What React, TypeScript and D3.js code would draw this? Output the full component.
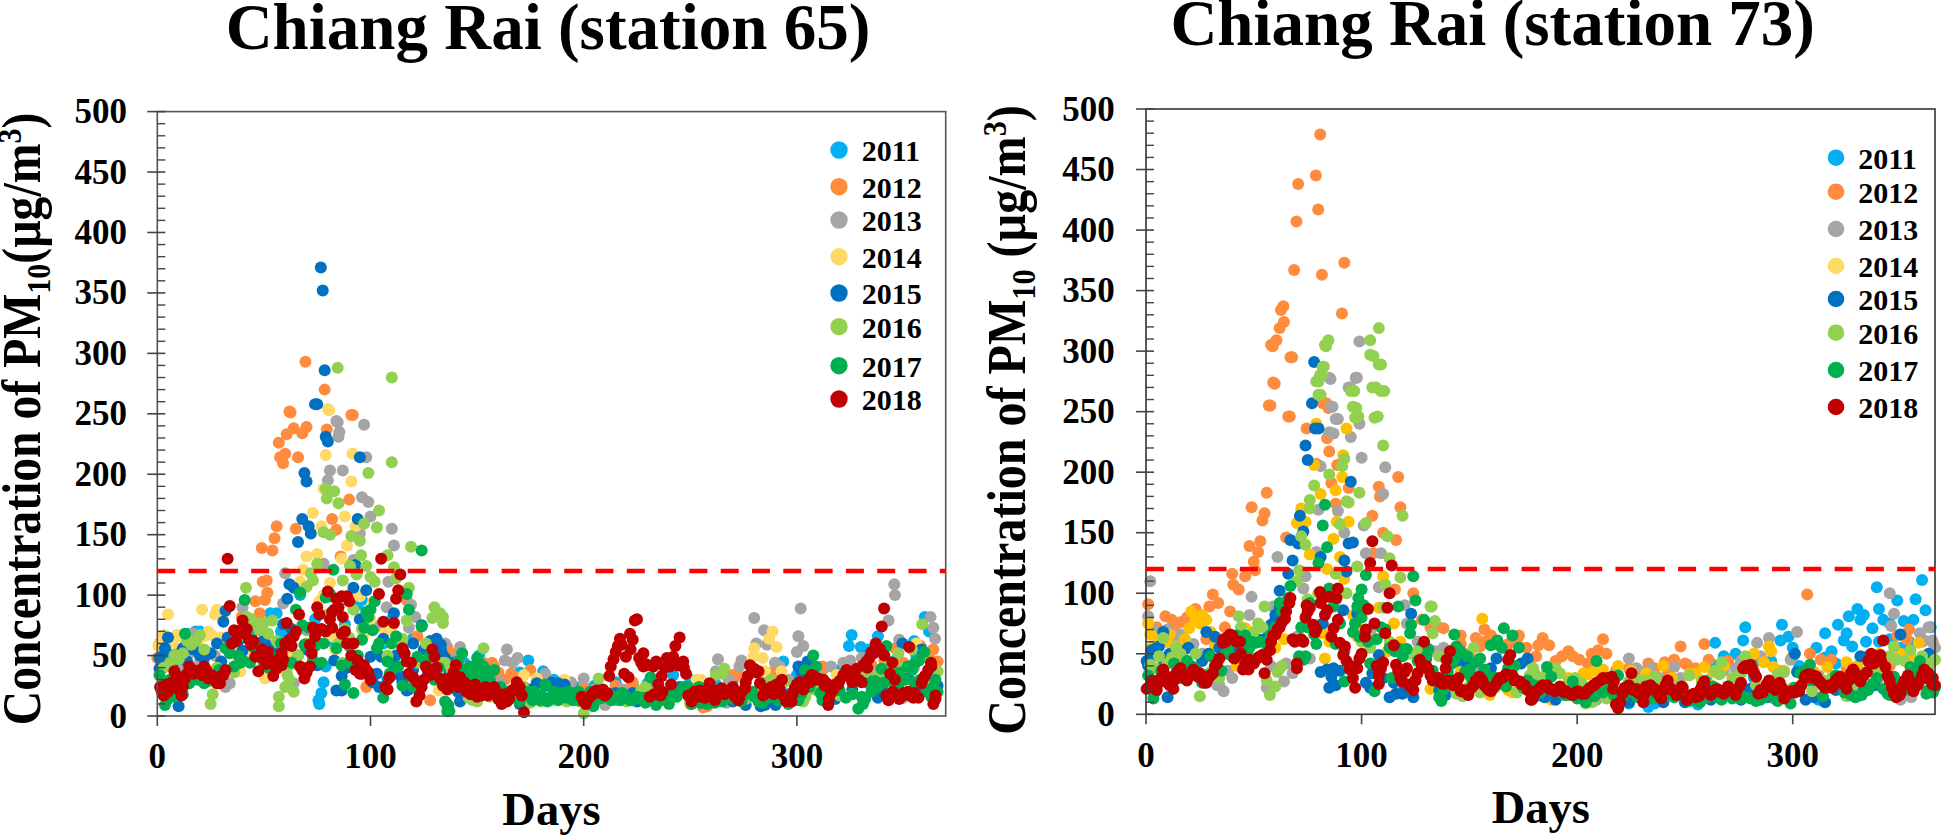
import React from "react";
import * as d3 from "d3";

type P = [number, number];
const years = [2011, 2012, 2013, 2014, 2015, 2016, 2017, 2018];
const xTickValues = [0, 100, 200, 300];

// ---------- Station 65 ----------
const s65_2011: P[] = [[79,41],[78,28],[77,19],[75.6,13],[76,10],[53,85],[67,100],[96,96],[20,70],[83,60],[94,92],[151,50],[174,46],[181,37],[186,30],[242,34],[223,26],[325.7,67],[324.4,58],[330,57],[333.5,55],[338,66],[360,82],[293.6,45],[61,66],[36,60],[12,66],[5,60],[88,76],[106,60],[110,80],[196,24],[262,26],[300,34],[355,62],
[14,68],[18,70],[2,50],[40,66],[45,70],[56,85],[58,70],[74,80],[86,64],[90,58],[120,64],[135,50],[144,44],[160,30],[170,36],[190,28],[205,25],[215,28],[230,27],[250,30],[270,30],[285,25],[310,30],[320,38],[345,45],[362,70],[356,50]];
const s65_2012: P[] = [[69.5,293],[78.5,270],[62.5,251],[91.7,249],[62,252],[91,249],[64,238],[60.7,233],[70,239],[68,234],[79.5,237],[57,226],[60,217],[57.6,214],[59,209],[66,214],[90,179],[82,163],[84,154],[65,155],[56,157],[55,147],[49,139],[54,137],[86,132],[51.3,112],[49.5,111],[51.6,102],[50.5,96],[46,95],[48,85],[39.6,82],[0,48],[128,13],[98,24],[117,96],[157,44],[158,41],[166,35],[163,30],[175,38],[136,57],[223,28],[182,30],[366,45],[364,55],[272.5,34],[312,41],[346,56],[258,8],[288,36],[110,75],[122,66],[134,48],[145,40],[7,53],[42,72],
[3,50],[134,55],[138,52],[141,46],[150,40],[153,44],[160,36],[168,32],[172,24],[178,30],[188,22],[200,24],[215,25],[222,24],[250,10],[256,7],[270,34],[276,32],[284,36],[292,33],[306,36],[312,38],[326,40],[335,42],[341,46],[350,44],[358,58],[362,48]];
const s65_2013: P[] = [[84.6,243],[84,244],[97,241],[85.4,235],[85,231],[81,203],[87,203],[80,195],[98,214],[96,181],[99,177],[100,165],[110,155],[111,141],[95,151],[78,126],[92,129],[60,118],[108.4,111],[119,92],[107.6,90],[59,93],[40,90],[34,27],[32,24],[64,27],[65,44],[103,74],[118,73],[70,71],[121,82],[17,68],[1,60],[142,57],[164,55],[169,48],[163,46],[166.7,44],[182,35],[200,31],[194,28],[161,28],[210,9],[345.7,109],[346,100],[343,79],[362.7,82],[364,73],[364.8,64],[348,63],[280,81],[284.6,71],[301.8,89],[300.7,66],[303,58],[300,53],[263,47],[274,46],[273,41],[281,60],[286,59],[289.7,44],[316,41],[321.8,44],[330.4,48],[350,15],[267,11],[128,45],
[135,60],[140,48],[145,35],[150,30],[156,30],[170,25],[176,22],[190,25],[205,22],[218,22],[232,20],[250,23],[258,22],[262,37],[268,30],[285,33],[292,41],[296,30],[305,38],[310,34],[325,46],[330,37],[335,36],[340,38],[355,40],[20,45],[27,50],[30,34],[6,48],[12,40],[15,52]];
const s65_2014: P[] = [[80.6,253],[80,254],[91.5,217],[79,216],[91,194],[78,188],[73,168],[88,165],[77,157],[93,157],[89,141],[70,132],[75,134],[86.5,130],[68.5,121],[67,111],[5,84],[21,88],[28,88],[27,84],[31,84],[0.5,58],[3,67],[9,67],[25.5,67],[29,63],[83.4,55],[96.6,66],[50.5,31],[39,37],[101.4,95],[109,71],[107,70],[132,21],[95,99],[82,66],[172,34],[191,30],[253,30],[178,31],[185,28],[288.6,70],[290.5,57],[287,64],[280,56],[284,48],[279.6,49],[292.8,37],[318.6,34],[356,60],[255,30],[344,41],[285,37],[120,30],
[1,60],[4,62],[7,60],[10,66],[13,63],[16,58],[19,62],[22,66],[24,70],[30,65],[33,62],[36,55],[38,45],[44,48],[52,55],[58,48],[63,50],[76,95],[78,100],[81,110],[84,90],[90,100],[100,80],[105,62],[112,50],[126,40],[138,28],[146,30]];
const s65_2015: P[] = [[76.7,371],[77.6,352],[78.5,286],[75,258],[74,258],[79,231],[80,227],[95,214],[69,201],[70,194],[68,163],[71,157],[72,151],[66,144],[94,163],[93,125],[92,106],[98,104],[62,109],[64,106],[61,97],[32,87],[31,78],[5,65],[3.6,56],[3,50],[1,39],[10,8],[84,21],[86.5,21],[86.5,33],[83,46],[81,99],[111,85],[131,64],[133,55],[124,75],[117,21],[114,33],[103,35],[105,49],[106,64],[100,49],[33,65],[47,60],[59,76],[50,63],[191,26],[178,27],[185,28],[133,59],[134,50],[223,19],[142,12],[172,10],[349.5,60],[300.7,41],[338,15],[285,9],[302,37],[358.5,55],[12,56],[20,50],[95,80],[120,60],[127,36],
[1,48],[2,44],[6,50],[7,42],[14,45],[17,55],[22,48],[25,52],[28,60],[30,45],[38,62],[40,54],[44,62],[52,58],[55,52],[60,58],[63,72],[66,50],[70,55],[75,42],[89,40],[92,50],[96,40],[100,33],[101,28],[104,24],[108,30],[110,44],[112,50],[115,28],[118,22],[120,38],[125,55],[128,62],[135,48],[137,36],[139,44],[141,20],[145,28],[150,22],[155,24],[165,20],[170,10],[175,22],[182,25],[188,27],[195,18],[205,16],[215,19],[225,12],[235,18],[245,24],[255,11],[262,16],[270,12],[276,9],[283,8],[290,9],[296,18],[305,45],[312,18],[318,14],[326,22],[333,30],[340,22],[345,17],[352,34],[356,20],[362,30],[366,25]];
const s65_2016: P[] = [[84.6,288],[110,280],[110,210],[99,201],[79,188],[83,186],[79.5,180],[85,176],[104,170],[97,159],[103,156],[78,152],[81,150],[91,149],[95,145],[119,140],[95.6,133],[108,133],[98,124],[111,123],[90.4,124],[93.5,117],[75,126],[87,112],[72,118],[100,115],[102,111],[70,107],[73,112],[41.6,106],[112,114],[118,106],[117,79],[130,90],[132.6,85],[134,77],[129,81],[42,82],[50,77],[54,79],[48,71],[52,68],[20,67],[16,59],[12,52],[6,44],[26,18],[25,10],[57,16],[57,8],[60,24],[61,34],[62,42],[92,88],[134,44],[87,44],[134,82],[207,31],[200,2],[135,44],[229,24],[153,56],[148,13],[172,23],[358.8,76],[266,39],[265,35],[347.6,52],[366,37],[337,30],[304,16],[346,27],[358,30],[190,14],[240,12],
[3,40],[8,50],[10,47],[14,62],[18,62],[22,55],[28,40],[36,36],[38,65],[44,80],[46,76],[48,74],[56,62],[62,30],[64,20],[66,50],[70,60],[80,84],[85,60],[88,72],[90,65],[96,72],[108,50],[115,64],[122,44],[126,60],[138,38],[142,25],[146,15],[150,12],[156,16],[162,12],[168,14],[175,11],[180,12],[185,13],[192,12],[198,12],[203,18],[208,14],[215,13],[220,12],[227,21],[233,17],[238,14],[244,20],[250,12],[256,12],[262,34],[270,20],[276,14],[283,24],[288,30],[294,28],[298,14],[303,12],[308,22],[314,18],[320,17],[326,18],[332,36],[338,34],[342,44],[350,40],[354,55],[360,50],[362,28],[365,15]];
const s65_2017: P[] = [[3.6,9],[1,34],[8,16],[13,68],[22,27],[15,27],[11,32],[36,41],[41,96],[32,56],[34,52],[43.5,44],[48,55],[67,102],[65,88],[68,75],[69,59],[73,46],[78,60],[82.6,121],[81,101],[79,98],[86.5,42],[92,19],[98,86],[99,82],[97,73],[102,95],[96,63],[103,56],[110,60],[113,41],[118,88],[124,74],[124,137],[117,101],[106,15],[120,24],[122,49],[109,35],[135,12],[136,4],[143,52],[136.5,9],[137,4],[135.7,10],[150,48],[146.7,41],[153,41],[155,37],[148,33],[154,33],[172,17],[175,16],[177,20],[179.5,13],[182,26],[184.6,16],[187,15],[191,17],[193,20],[195,13],[197.6,20],[200,16],[204.5,8],[207,14],[212,18],[215.5,16],[218,19],[221.7,13],[225,16],[228,15],[231.4,32],[234,9],[238,16],[241,20],[243.6,16],[247,24],[250.6,10],[254,24],[254.5,11],[261.6,11],[268,19],[279,20],[284,11],[289,20],[291,13],[300.7,13],[303.8,38],[307.7,50],[309,41],[306,24],[311,19],[328.8,6],[330.4,16],[333.5,27],[336.6,29],[342,58],[339.7,39],[347.6,26],[350.7,30],[355.4,44],[357.3,46],[359.8,53],[363,16],[364,24],[352,41],[354,38],[160,14],[165,16],[168,18],
[2,20],[5,14],[6,30],[10,25],[12,18],[17,38],[19,30],[24,29],[26,33],[29,38],[31,36],[38,50],[39,44],[40,46],[44,63],[45,57],[50,44],[52,40],[56,48],[58,60],[63,44],[71,73],[74,58],[77,44],[84,56],[88,26],[90,44],[94,50],[100,88],[101,71],[104,60],[108,45],[112,66],[115,25],[119,33],[126,45],[128,50],[130,30],[132,40],[138,25],[141,45],[144,38],[145,30],[147,30],[149,36],[151,44],[152,30],[156,30],[158,38],[161,24],[163,20],[170,12],[174,20],[176,13],[178,15],[180,17],[183,12],[186,20],[188,13],[190,19],[192,15],[194,17],[196,16],[198,13],[202,13],[203,20],[205,16],[209,15],[210,19],[213,13],[217,13],[220,16],[223,13],[226,15],[229,11],[236,13],[240,10],[244,20],[249,24],[252,18],[256,20],[258,10],[263,19],[265,12],[270,14],[274,12],[276,18],[280,16],[282,12],[286,15],[293,16],[296,10],[298,16],[302,18],[312,13],[316,20],[320,21],[323,15],[326,18],[331,10],[332,14],[335,20],[338,24],[341,28],[344,30],[346,25],[348,36],[355,28],[358,30],[361,20],[365,30],[366,20]];
const s65_2018: P[] = [[1.3,24],[3,17],[5,20],[8,37],[11,27],[11.4,17],[13,31],[15,41],[18,37],[20,38],[22,41],[25,34],[27,30],[29.4,27],[32,38],[33,130],[34,91],[36,71],[38,68],[40,79],[39,71],[41,68],[35,60],[43,63],[44,59],[46,49],[48,49],[47.4,37],[50.5,52],[52,53],[54.4,33],[56,39],[58.3,42],[58.3,52],[60.7,77],[61.4,61],[64,66],[65,70],[66.5,84],[67,41],[69,31],[71.6,41],[71.6,59],[72.4,52],[73,73],[75,90],[76,84],[78,71],[80,103],[82,73],[82,86],[84,97],[83,88],[86.5,99],[86.5,68],[87,82],[89,99],[89,60],[91,50],[93,38],[95,35],[98,38],[106,78],[104,101],[105,130],[111,77],[112,97],[113,104],[114,117],[107,24],[121.5,12],[123,17],[115,56],[116,52],[118,35],[120,32],[125,30],[126,41],[129,55],[130,49],[132.6,31],[135,30],[137,26],[140,42],[143,26],[146,21],[150,16],[153,20],[156,19],[159,20],[161.5,10],[164,12],[166,20],[168.6,28],[171,17],[172,3],[199,16],[201,10],[203,16],[205,20],[207.6,19],[211,19],[212,33],[212.7,41],[215,53],[217,64],[217.8,59],[219,35],[221,32],[219.8,49],[221.7,68],[223,63],[225,80],[224,79],[226,48],[228,52],[228,41],[231,16],[232.7,41],[234,45],[235,26],[236,17],[236.6,33],[239,48],[240.5,41],[241,26],[242,49],[243,58],[245,65],[246.7,45],[248,35],[249,17],[250.6,12],[253,16],[254.5,21],[254,17],[257,15],[259,27],[261.6,13],[264.7,23],[268,20],[270,24],[272.5,13],[275.7,23],[277,33],[278,42],[280,39],[282,37],[282.7,27],[284.2,17],[287.4,23],[290.5,26],[293,30],[295,12],[297.5,12],[299,23],[302,27],[304.6,27],[307,34],[310,31],[312.4,30],[314,27],[314.7,9],[316,19],[319.4,26],[321.8,34],[323.3,38],[325.7,31],[328,39],[330.4,28],[332.7,45],[335,53],[337,60],[339,55],[339.8,74],[340.9,89],[342,17],[343,13],[344.8,44],[343.7,35],[346,30],[347.6,17],[350,19],[352.7,57],[352,20],[354.6,15],[357,15],[358.5,27],[360,33],[361.6,38],[362.9,44],[364,10],[365,17],
[2,22],[4,26],[6,23],[7,28],[9,33],[10,22],[12,24],[14,35],[16,38],[17,35],[19,36],[21,34],[23,38],[24,31],[26,33],[28,27],[30,33],[31,34],[37,62],[42,72],[45,62],[49,55],[51,43],[53,46],[55,42],[57,47],[59,47],[60,60],[62,63],[63,58],[68,38],[70,36],[74,66],[77,72],[79,70],[81,80],[85,90],[88,70],[90,95],[92,60],[94,46],[96,35],[97,42],[99,36],[100,30],[108,22],[109,32],[117,45],[119,44],[122,28],[124,24],[127,38],[128,34],[131,40],[134,25],[136,22],[138,32],[139,36],[141,24],[142,32],[144,28],[145,20],[147,18],[148,22],[149,26],[151,20],[152,17],[154,24],[155,17],[157,20],[158,24],[160,14],[162,15],[163,18],[165,14],[167,22],[169,22],[170,24],[200,12],[202,14],[204,18],[206,21],[209,22],[210,17],[214,47],[216,58],[222,55],[227,44],[229,43],[230,42],[233,18],[237,20],[238,40],[244,42],[247,40],[251,15],[252,20],[255,16],[256,20],[258,18],[260,22],[262,18],[263,21],[265,22],[266,18],[269,22],[271,16],[273,15],[274,20],[276,28],[279,38],[281,36],[285,21],[286,20],[288,24],[289,18],[291,24],[292,22],[294,16],[296,14],[298,18],[300,26],[301,28],[303,22],[305,30],[306,28],[308,33],[309,30],[311,30],[313,25],[315,14],[317,22],[318,26],[320,29],[322,33],[324,34],[326,28],[327,36],[329,30],[331,42],[333,40],[334,48],[336,52],[338,56],[341,50],[345,20],[348,14],[349,16],[351,18],[353,17],[355,19],[356,16],[359,30],[363,41],[365,14]];
const station65 = [s65_2011, s65_2012, s65_2013, s65_2014, s65_2015, s65_2016, s65_2017, s65_2018];

// ---------- Station 73 ----------
const s73_2011: P[] = [[360,111],[339,105],[348.5,94],[357,95],[361.6,86],[330,87],[333,82],[340,87],[342,78],[326,81],[331.4,78],[321,74],[315,67],[337,71],[325,67],[323.7,61],[327.6,56],[318,52],[311,55],[334,60],[351.5,77],[356,78],[350,55],[278,72],[277,61],[295,74],[294.3,61],[298,64],[300,55],[264,59],[268,48],[273.5,50],[269.6,43],[256,8],[312,12],[224,9],[233,6],[236,9],[305,33],[283,44],[262,42],[315,47],[345,75],[354,60],[364,72],
[270,45],[276,47],[282,30],[290,44],[303,40],[285,18],[180,30],[240,26],[8,40],[340,60],[345,62],[320,42],[340,46],[260,28]];
const s73_2012: P[] = [[80.8,479],[78.8,445],[70.6,438],[79.9,417],[69.8,407],[68.7,367],[81.6,363],[92,373],[90.9,331],[63.7,337],[62.6,334],[64,324],[62,319],[60.5,309],[58.8,304],[58,305],[67.8,295],[67,295],[59.7,273],[59,274],[57.7,255],[57,255],[66.7,246],[66,246],[83.7,257],[84.6,253],[82,257],[56,183],[49,171],[55,166],[54,160],[48,139],[53,143],[52,134],[50,126],[50.6,119],[40,116],[46,114],[43,103],[40.5,107],[31,99],[33.5,92],[29.4,89],[1,91],[39,85],[23,87],[9,81],[19,80],[13.5,74],[36.6,72],[85,217],[88.7,206],[86,191],[94,187],[88,174],[84,228],[108,188],[108.5,180],[117,196],[118,171],[105,164],[110,150],[116,144],[74.5,236],[79,207],[65,146],[105.5,133],[115.5,103],[124,100],[138,71],[135,73],[146,65],[157,70],[153,63],[157,60],[173,65],[184,63],[187,57],[182,57],[212,62],[209.8,53],[213.6,50],[206.7,50],[196,52],[193,48],[198,48],[201,45],[248,56],[233,42],[240.7,43],[245,45],[250,42],[176.5,55],[181,48],[146,58],[306.7,99],[259,58],[261,45],[251,41],[308,50],[313,45],[318,45],[354,70],[348.5,65],[365,59],[362,45],[353,62],[128,78],[132,72],[160,65],[168,58],
[5,72],[12,78],[16,76],[26,80],[28,62],[34,56],[38,60],[143,54],[150,50],[155,56],[162,58],[166,55],[172,60],[178,44],[190,44],[205,42],[218,36],[224,38],[228,36],[236,38],[242,36],[255,38],[270,44],[282,36],[295,36],[325,38],[338,46],[345,40],[360,60],[364,50]];
const s73_2013: P[] = [[99,308],[97.8,278],[85.6,277],[94.8,270],[86.5,254],[89,244],[2,110],[1,81],[85,278],[97.3,278],[94,270],[86,254],[88,244],[99,240],[85,233],[87,232],[95,229],[100,212],[111,204],[81,205],[110,182],[89,168],[101,156],[92,150],[102,133],[61,130],[49,97],[48,82],[80,169],[74,114],[109,133],[108,105],[73,104],[16,66],[36,19],[33,24],[65,42],[64,27],[68,34],[70,64],[59,89],[79,134],[120,90],[121,75],[138,55],[224,46],[245,39],[227.5,38],[209,12],[345,100],[347,83],[345.7,73],[302,68],[283.5,59],[289,63],[300,48],[299,45],[273.5,38],[364.7,61],[363,72],[359,67],[361,61],[350,12],[291,13],[12,60],[40,30],[10,70],[230,35],[238,30],
[3,70],[6,62],[10,60],[14,64],[18,62],[22,58],[26,50],[32,28],[34,24],[38,36],[56,22],[58,40],[62,38],[73,60],[76,46],[104,68],[126,60],[134,52],[142,50],[146,44],[152,36],[170,40],[180,35],[200,22],[214,30],[218,34],[234,38],[248,30],[268,36],[276,44],[285,48],[312,32],[320,30],[330,22],[340,30],[355,14],[366,55]];
const s73_2014: P[] = [[93,236],[79,240],[78,206],[91.5,214],[91,196],[81,182],[88,185],[70,158],[74,159],[94,159],[88.5,159],[87,145],[76,132],[90,130],[72,170],[21,85],[28,78],[25,75],[1,75],[2,66],[20,71],[83,46],[82,67],[108,88],[110,114],[98,64],[115,75],[101,63],[103,60],[132,21],[85,60],[9.6,60],[46,71],[156,79],[219,40],[203,34],[212,37],[240,40],[205,33],[159.5,16],[188,12],[168,20],[289,56],[290,52],[282,50],[286.6,43],[291,39],[316,39],[325,43],[259,39],[255,34],[252,33],[358.5,59],[354.6,48],[263,35],
[3,56],[6,62],[11,66],[14,56],[18,62],[23,78],[26,82],[30,68],[32,56],[38,52],[42,40],[60,55],[64,62],[80,100],[84,120],[92,112],[96,82],[100,70],[106,62],[112,52],[118,60],[125,30],[128,38],[140,20],[146,35],[150,32],[164,30],[170,18],[178,24],[190,18],[196,30],[200,28],[208,36],[215,30],[225,36],[232,34],[244,30],[258,28],[262,24],[268,40],[274,30],[296,36],[310,35],[330,40],[340,50],[350,50],[362,40]];
const s73_2015: P[] = [[78,291],[77,257],[78.4,236],[80,236],[74,222],[75,210],[95,192],[71.4,164],[73,151],[67,144],[70.6,141],[94,141],[96,142],[68,127],[81,130],[92,127],[93,118],[66,116],[62,102],[91.5,86],[123,83],[98,83],[82,75],[60,82],[28,68],[8,68],[10,14],[2.6,53],[5,55],[0.3,44],[19.6,55],[32,64],[84,37],[87,38],[85,22],[86,31],[116,17],[119,17],[108,49],[105,34],[102,26],[115,26],[57,68],[162.6,46],[177,46],[139,16],[184,15],[148.7,42],[160,38],[301,50],[350,66],[306,12],[302,35],[335,48],[331.4,48],[320,20],[280,21],[363,50],[190,12],[195,16],
[1,40],[3,48],[4,52],[6,56],[7,47],[11,50],[14,46],[17,52],[23,36],[26,44],[29,50],[34,55],[36,50],[40,52],[44,56],[48,58],[52,62],[55,62],[58,74],[60,78],[62,88],[64,86],[81,35],[88,24],[90,36],[104,22],[110,30],[113,14],[120,22],[124,14],[128,56],[130,46],[136,20],[140,40],[144,44],[150,35],[155,28],[170,30],[174,42],[180,14],[185,14],[188,20],[198,16],[205,14],[215,16],[224,10],[230,16],[240,10],[250,10],[262,12],[270,16],[276,12],[288,14],[296,14],[310,14],[315,10],[325,16],[333,22],[338,24],[345,30],[355,20],[360,40],[364,30]];
const s73_2016: P[] = [[108,319],[104,309],[84.6,309],[83.5,304],[105.5,296],[109,289],[82.5,287],[81.5,280],[80,275],[106.6,270],[110.5,267],[96.6,267],[81,264],[97.6,253],[98.5,246],[107.5,246],[83,305],[82,287],[80.7,280],[79,275],[80,264],[95,267],[96,254],[97,245],[106,245],[104,297],[108,289],[105,270],[109,267],[110,222],[92,211],[91,205],[85,198],[78,189],[99,183],[76,177],[93,176],[94,175],[76,170],[90,157],[102,158],[119,164],[112,147],[72,147],[74,140],[113,129],[98,122],[88,116],[118,113],[71,119],[70,110],[111,107],[55,89],[52,75],[43,81],[8,63],[14,55],[23,50],[2,41],[57.5,16],[60,23],[61,35],[25,15],[56,28],[132,89],[132.5,89],[134,77],[133,67],[152,55],[179.6,38],[190,38],[178,32],[147,15],[204,9],[213.6,13],[236,31],[232,28],[213,20],[196,27],[224,27],[157,20],[267,43],[278,48],[354.6,53],[347,56],[364,42],[325,15],[309,19],[296,35],[348,45],[266,33],[293,33],[314,28],[358,25],
[4,38],[6,48],[10,42],[12,47],[16,50],[18,45],[20,35],[27,30],[30,35],[34,30],[40,60],[44,72],[47,60],[50,68],[54,72],[58,65],[63,40],[66,92],[75,95],[80,100],[88,94],[93,100],[100,60],[104,55],[110,88],[113,60],[122,50],[126,52],[136,48],[140,24],[144,17],[150,23],[155,18],[162,22],[172,18],[176,22],[183,30],[186,35],[192,34],[199,30],[202,26],[207,10],[210,18],[216,28],[220,16],[228,28],[240,26],[246,24],[252,32],[258,28],[264,36],[272,30],[276,34],[283,24],[288,22],[300,22],[304,34],[318,30],[328,24],[332,33],[340,36],[345,48],[352,44],[355,37],[360,48],[366,45]];
const s73_2017: P[] = [[83,173],[82,156],[84,138],[80,125],[67,106],[85,104],[124,114],[102,115],[100,103],[98.5,96],[125,94],[117,89],[129,78],[90,75],[97,75],[123,74],[111,70],[122.5,67],[65,92],[62,92],[51,59],[46,65],[42,65],[40,48],[30,48],[19,44],[1,32],[3.4,13],[92,27],[106,19],[104,42],[115.5,52],[121,54],[76,92],[71,48],[72,72],[75,72],[87,89],[98,89],[143,66],[144,56],[166,71],[170,65],[163,61],[160,57],[165,55],[173,55],[149,48],[153,43],[209,44],[186,39],[219,32],[137,11],[157,37],[143,45],[138,20],[167,23],[204,10],[188,31],[198,27],[150,37],[308,41],[303.6,34],[314,15],[299,9],[280.4,13],[285,12],[270,23],[330,15],[322,26],[335,20],[359,44],[354.6,39],[362,17],[342,21],[347,31],[263,23],[257,10],[291,16],[313,26],[226,20],[240,14],[260,14],
[2,22],[4,18],[5,28],[7,36],[9,30],[11,26],[13,42],[15,38],[16,30],[21,40],[23,38],[26,26],[28,32],[33,38],[35,36],[37,50],[38,60],[39,58],[43,60],[44,62],[47,52],[48,55],[49,60],[53,60],[55,50],[56,58],[58,66],[60,72],[63,85],[66,96],[73,45],[74,48],[78,66],[79,58],[88,58],[92,52],[94,40],[96,68],[99,64],[100,80],[101,90],[103,60],[107,62],[109,72],[113,55],[114,30],[118,54],[119,48],[126,44],[128,40],[130,48],[131,54],[133,36],[135,30],[136,14],[140,35],[142,42],[145,50],[146,52],[148,35],[151,30],[152,26],[155,46],[158,32],[161,24],[162,30],[168,38],[171,40],[175,22],[177,28],[180,24],[183,18],[190,20],[194,16],[197,16],[200,13],[202,14],[206,16],[208,15],[212,18],[215,21],[217,16],[221,14],[225,18],[228,14],[232,15],[235,13],[238,14],[242,16],[245,14],[248,16],[252,11],[254,12],[258,14],[265,14],[267,12],[272,13],[274,14],[276,13],[278,14],[283,11],[287,14],[293,11],[295,14],[297,14],[301,22],[305,36],[307,28],[310,28],[316,22],[318,24],[320,32],[324,18],[327,16],[329,14],[332,16],[334,21],[337,25],[339,30],[344,17],[345,16],[350,26],[352,20],[355,28],[357,33],[360,38],[363,20],[365,18],[366,22]];
const s73_2018: P[] = [[0.3,21],[2.6,28],[5,20],[8,37],[10,26],[12.7,21],[16,38],[19,28],[22,37],[25,34],[28,26],[31,34],[34,46],[35.6,59],[40,65],[43.6,60],[41,46],[45,37],[48,45],[47.5,37],[51,45],[54,49],[55,34],[57.5,53],[59,65],[62,72],[64.5,79],[66.5,92],[67,96],[68,62],[70.6,61],[73,60],[70,42],[70,38],[74.5,90],[76,88],[74,80],[77.6,74],[78.4,68],[80.7,101],[84,86],[83,82],[85,97],[89,104],[88.4,96],[87,71],[86,64],[90,59],[92.3,56],[91.5,49],[93,44],[94.6,37],[97,22],[99,46],[98,38],[101.6,64],[106,75],[103,87],[105,143],[104,125],[114,123],[113,100],[112,88],[111,67],[115,57],[110,43],[108,32],[108,25],[116,41],[119,27],[124,20],[121,38],[127,45],[129,60],[126,34],[131,37],[132,32],[134,30],[137,26],[139,38],[141,52],[139.4,45],[142.5,24],[145,30],[146,19],[149.5,16],[152,24],[154.6,31],[157,24],[160,19],[163,27],[166,31],[169,49],[168,45],[170,32],[173.4,27],[175.8,24],[178.5,12],[181,19],[186,24],[189.7,19],[192,23],[196.6,17],[200.5,19],[203.6,17],[207.5,24],[211,28],[216,31],[216.7,21],[218,8],[219,5],[223,21],[225.2,34],[227.6,21],[230.7,10],[232,23],[236,21],[239,13],[242,28],[245,19],[248.5,23],[250.7,12],[251,12],[254,17],[256.5,15],[259,27],[262,16],[265,21],[268,17],[270,23],[273.5,16],[276,26],[277,38],[280.4,41],[283,31],[284,17],[287,21],[289,28],[292,20],[294,26],[296,13],[299,19],[303,19],[305.5,30],[308,33],[311,31],[314,24],[319,24],[322,31],[325,21],[328,37],[331.4,27],[334.5,35],[336.4,50],[337.6,42],[340.7,49],[343,39],[342,61],[345,28],[347,17],[349.7,16],[351,24],[353.4,32],[356,19],[359,28],[361,37],[364.7,25],[363,34],
[1,22],[3,25],[4,23],[6,26],[7,30],[9,32],[11,24],[13,28],[14,34],[15,36],[17,32],[18,30],[20,32],[21,34],[23,33],[24,31],[26,30],[27,26],[29,30],[30,32],[32,40],[33,42],[36,62],[37,60],[38,64],[39,66],[42,60],[44,50],[46,42],[49,44],[50,42],[52,47],[53,48],[56,45],[58,60],[60,66],[61,70],[63,76],[65,85],[69,60],[72,62],[75,85],[79,70],[81,92],[82,96],[89,78],[95,40],[96,30],[100,50],[102,70],[107,40],[109,38],[117,36],[118,30],[120,35],[122,24],[123,25],[125,28],[128,40],[130,40],[133,28],[135,28],[136,30],[138,25],[140,28],[143,28],[144,26],[147,20],[148,18],[150,20],[151,22],[153,28],[155,30],[156,28],[158,22],[159,20],[161,22],[162,24],[164,30],[165,30],[167,33],[171,28],[172,28],[174,25],[177,20],[179,12],[180,16],[182,20],[183,22],[184,24],[187,21],[188,21],[191,20],[193,20],[194,18],[195,19],[198,16],[199,18],[202,17],[205,20],[206,22],[208,24],[209,26],[212,30],[214,30],[217,27],[220,10],[221,17],[222,22],[224,24],[226,20],[228,18],[229,17],[231,16],[233,20],[234,24],[235,22],[237,18],[238,16],[240,20],[241,24],[243,22],[244,20],[246,16],[247,20],[249,22],[252,14],[253,16],[255,14],[257,20],[258,24],[260,20],[261,18],[263,18],[264,20],[266,19],[267,18],[269,20],[271,21],[272,20],[274,20],[275,22],[278,40],[279,38],[281,38],[282,34],[285,20],[286,18],[288,25],[290,24],[291,22],[293,24],[295,22],[297,16],[298,18],[300,18],[301,18],[302,20],[304,24],[306,32],[307,33],[309,30],[310,32],[312,28],[313,26],[315,22],[317,24],[318,22],[320,28],[321,30],[323,26],[324,25],[326,28],[327,34],[329,34],[330,30],[332,30],[333,32],[335,44],[338,48],[339,46],[341,44],[344,32],[346,22],[348,14],[350,18],[352,28],[354,24],[355,26],[357,23],[358,24],[360,32],[362,30],[365,30],[366,24]];
const station73 = [s73_2011, s73_2012, s73_2013, s73_2014, s73_2015, s73_2016, s73_2017, s73_2018];

const colors = ["#00B0F0", "#FF8B3D", "#A5A5A5", "#FFD966", "#0070C0", "#92D050", "#00B050", "#C00000"];
const colors73 = ["#00B0F0", "#FF8B3D", "#A5A5A5", "#FFC000", "#0070C0", "#92D050", "#00B050", "#C00000"];
const font = "'Liberation Serif', serif";

function Panel(p: {
  title: string; titleX: number; titleY: number;
  left: number; right: number; top: number; bottom: number; maxDay: number;
  data: P[][]; markColors: string[];
  legendDotX: number; legendTextX: number; legendY: number[]; legendR: number;
  tickEnd: number; xLabelY: number; daysX: number; daysY: number;
  yLabelX: number; yLabelY: number; yLabelScale: number; spaceInLabel: boolean; frame: string;
}) {
  const x = d3.scaleLinear().domain([0, p.maxDay]).range([p.left, p.right]);
  const y = d3.scaleLinear().domain([0, 500]).range([p.bottom, p.top]);
  const majors = y.ticks(10);
  const minors = d3.range(0, 501, 10).filter((v) => v % 50 !== 0);
  return (
    <g fontFamily={font} fontWeight="bold" fill="#000">
      <text x={p.titleX} y={p.titleY} fontSize={65} textAnchor="middle">{p.title}</text>
      {p.data.map((s, i) => (
        <g key={i} fill={p.markColors[i]}>
          {s.map((d, j) => <circle key={j} cx={x(d[0])} cy={y(d[1])} r={6} />)}
        </g>
      ))}
      <rect x={p.left} y={p.top} width={p.right - p.left} height={p.bottom - p.top} fill="none" stroke={p.frame} strokeWidth={1.6} />
      {majors.map((v) => (
        <line key={v} x1={p.left - 10} x2={p.left + 8} y1={y(v)} y2={y(v)} stroke="#444" strokeWidth={1.6} />
      ))}
      {minors.map((v) => (
        <line key={v} x1={p.left} x2={p.left + 8} y1={y(v)} y2={y(v)} stroke="#444" strokeWidth={1.4} />
      ))}
      {xTickValues.map((v) => (
        <line key={v} x1={x(v)} x2={x(v)} y1={p.bottom} y2={p.bottom + 10} stroke="#444" strokeWidth={1.6} />
      ))}
      <line x1={p.left} x2={p.right} y1={y(120)} y2={y(120)} stroke="#FF0000" strokeWidth={4.5} strokeDasharray="18 13.3" />
      {majors.map((v) => (
        <text key={v} x={p.tickEnd} y={y(v) + 11.5} fontSize={35} textAnchor="end">{v}</text>
      ))}
      {xTickValues.map((v) => (
        <text key={v} x={x(v)} y={p.xLabelY} fontSize={35} textAnchor="middle">{v}</text>
      ))}
      <text x={p.daysX} y={p.daysY} fontSize={46.5} textAnchor="middle">Days</text>
      <text transform={`translate(${p.yLabelX},${p.yLabelY}) rotate(-90) scale(${p.yLabelScale},1)`} fontSize={54} textAnchor="middle">
        Concentration of PM<tspan fontSize={34} dy={10}>10</tspan>
        <tspan dy={-10}>{p.spaceInLabel ? " (µg/m" : "(µg/m"}</tspan>
        <tspan fontSize={34} dy={-19}>3</tspan>
        <tspan dy={19}>)</tspan>
      </text>
      {years.map((yr, i) => (
        <g key={yr}>
          <circle cx={p.legendDotX} cy={p.legendY[i]} r={p.legendR} fill={colors[i]} />
          <text x={p.legendTextX} y={p.legendY[i] + 11} fontSize={30}>{yr}</text>
        </g>
      ))}
    </g>
  );
}

export default function App() {
  return (
    <svg width={1944} height={837} style={{ position: "absolute", left: 0, top: 0, display: "block" }}>
      <rect width={1944} height={837} fill="#fff" />
      <Panel title="Chiang Rai (station 65)" titleX={548} titleY={49} left={157.3} right={945.7} top={111.6} bottom={716} maxDay={369.8}
        data={station65} markColors={colors} legendDotX={839} legendTextX={861.7} legendR={8.7}
        legendY={[150, 186.7, 220, 256.7, 293, 326.7, 365.7, 399]} tickEnd={127} xLabelY={768} daysX={551.4} daysY={825}
        yLabelX={40} yLabelY={419} yLabelScale={0.883} spaceInLabel={false} frame="#555" />
      <Panel title="Chiang Rai (station 73)" titleX={1492.7} titleY={45} left={1146} right={1935} top={109} bottom={714.3} maxDay={366}
        data={station73} markColors={colors73} legendDotX={1836} legendTextX={1858.3} legendR={8.3}
        legendY={[157.7, 191.7, 229, 266, 299, 332.7, 370, 407]} tickEnd={1114.7} xLabelY={766.7} daysX={1540.8} daysY={823}
        yLabelX={1024.7} yLabelY={420} yLabelScale={0.89} spaceInLabel={true} frame="#333" />
    </svg>
  );
}
